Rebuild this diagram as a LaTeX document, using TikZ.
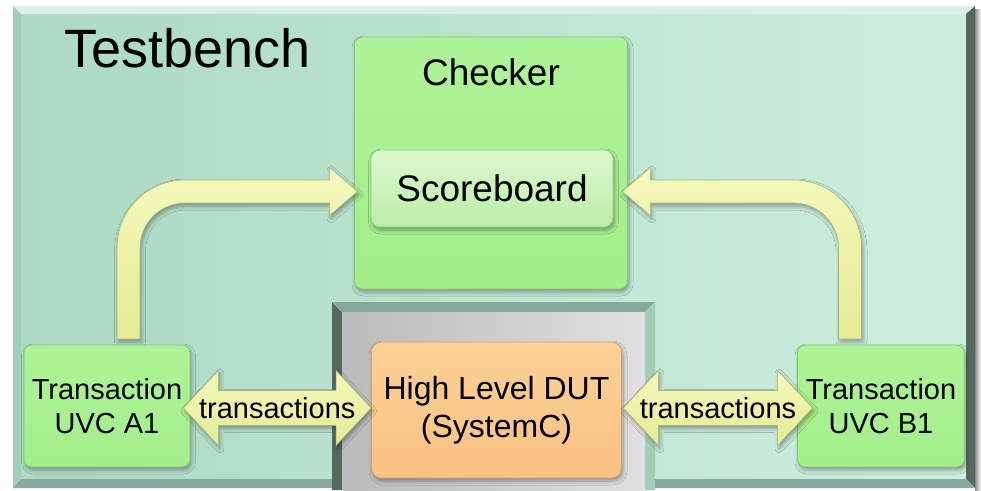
\documentclass[tikz,border=0pt]{standalone}
\usepackage{fontspec}
\setmainfont{Liberation Sans}
\usetikzlibrary{calc,shadows.blur}

\definecolor{faceL}{HTML}{ACDAC4}
\definecolor{faceR}{HTML}{CCEEDE}
\definecolor{bevTop}{HTML}{D8F1E5}
\definecolor{bevLeft}{HTML}{A2CDB8}
\definecolor{bevDark}{HTML}{56695F}
\definecolor{bevBot}{HTML}{87A999}
\definecolor{boxG}{HTML}{A3EE8A}
\definecolor{boxGtop}{HTML}{AEF398}
\definecolor{boxGedge}{HTML}{86C477}
\definecolor{scbTop}{HTML}{DBF8CF}
\definecolor{scbBot}{HTML}{BBEDA7}
\definecolor{scbEdge}{HTML}{96C888}
\definecolor{dutTop}{HTML}{FDD096}
\definecolor{dutBot}{HTML}{F8C283}
\definecolor{dutEdge}{HTML}{D3A46C}
\definecolor{arrTop}{HTML}{F5F8BC}
\definecolor{arrBot}{HTML}{E4EB95}
\definecolor{arrEdge}{HTML}{AFB474}
\definecolor{grayL}{HTML}{BBBBBB}
\definecolor{grayR}{HTML}{E0E0E0}

\tikzset{
  softshadow/.style={blur shadow={shadow xshift=1.5pt, shadow yshift=-3pt,
      shadow blur radius=4pt, shadow opacity=35}},
  box/.style={draw=boxGedge, line width=0.8pt, rounded corners=8pt,
      top color=boxGtop, bottom color=boxG, softshadow,
      inner sep=0pt, align=center},
  scorebox/.style={draw=scbEdge, line width=0.8pt, rounded corners=9pt,
      top color=scbTop, bottom color=scbBot, softshadow, inner sep=0pt},
  dutbox/.style={draw=dutEdge, line width=0.8pt, rounded corners=10pt,
      top color=dutTop, bottom color=dutBot, softshadow,
      inner sep=0pt, align=center},
  arrowbody/.style={top color=arrTop, bottom color=arrBot, draw=arrEdge,
      line width=0.6pt, line join=round, softshadow},
  uvcfont/.style={font=\fontsize{29}{34}\selectfont},
  bigfont/.style={font=\fontsize{37}{42}\selectfont},
}

% bent block arrow: #1 foot of the shaft, #2 tip, #3 direction (1 right, -1 left), #4 prefix
\newcommand\bentarrow[4]{%
  \coordinate (#4c) at (#1 |- #2);
  \path[arrowbody]
    ($(#1)+({-(#3)*11.5},0)$) -- ($(#4c)+({-(#3)*11.5},56.5)$)
    .. controls ($(#4c)+({-(#3)*11.5},18.9)$) and ($(#4c)+({(#3)*18.9},-11.5)$)
    .. ($(#4c)+({(#3)*56.5},-11.5)$)
    -- ($(#2)+({-(#3)*28},-11.5)$) -- ($(#2)+({-(#3)*28},-24)$) -- (#2)
    -- ($(#2)+({-(#3)*28},24)$) -- ($(#2)+({-(#3)*28},11.5)$)
    -- ($(#4c)+({(#3)*56.5},11.5)$)
    .. controls ($(#4c)+({(#3)*31.6},11.5)$) and ($(#4c)+({(#3)*11.5},31.6)$)
    .. ($(#4c)+({(#3)*11.5},56.5)$)
    -- ($(#1)+({(#3)*11.5},0)$) -- cycle;
}

% double-headed block arrow between two tips on one level
\newcommand\twowayarrow[2]{%
  \path[arrowbody]
    (#1) -- ($(#1)+(35,-37.5)$) -- ($(#1)+(35,-17.5)$)
    -- ($(#2)+(-35,-17.5)$) -- ($(#2)+(-35,-37.5)$) -- (#2)
    -- ($(#2)+(-35,37.5)$) -- ($(#2)+(-35,17.5)$)
    -- ($(#1)+(35,17.5)$) -- ($(#1)+(35,37.5)$) -- cycle;
}

\begin{document}
\begin{tikzpicture}[x=1pt,y=-1pt]
\useasboundingbox (0,0) rectangle (981,490);
\fill[white] (0,0) rectangle (981,490);

% shadow of the testbench frame
\shade[left color=black!45, right color=white] (975,9) rectangle (981,490);

% testbench face
\shade[left color=faceL, right color=faceR]
  (21,14) -- (966,14) -- (966,479) -- (655,479) -- (655,302)
  -- (332,302) -- (332,479) -- (21,479) -- cycle;

% bevelled frame edges
\fill[bevTop]  (13,6) -- (975,6) -- (966,14) -- (21,14) -- cycle;
\fill[bevLeft] (13,6) -- (21,14) -- (21,479) -- (13,488) -- cycle;
\fill[bevDark] (975,6) -- (975,488) -- (966,479) -- (966,14) -- cycle;
\fill[bevBot]  (13,488) -- (21,479) -- (332,479) -- (342,488) -- cycle;
\fill[bevBot]  (645,488) -- (655,479) -- (966,479) -- (975,488) -- cycle;
\fill[bevDark] (332,302) -- (342,312) -- (342,490) -- (332,490) -- cycle;
\fill[bevBot]  (332,302) -- (655,302) -- (645,312) -- (342,312) -- cycle;
\fill[bevLeft] (655,302) -- (655,490) -- (645,490) -- (645,312) -- cycle;

% recess holding the design under test
\shade[left color=grayL, right color=grayR] (342,312) rectangle (645,490);

% title
\node[anchor=base west, font=\fontsize{54}{60}\selectfont] (title) at (61,67) {Testbench};

% checker with its scoreboard
\node[box, minimum width=273pt, minimum height=252pt] (chk) at (491,163) {};
\node[bigfont, anchor=base] (chklabel) at (491,85) {Checker};
\node[scorebox, bigfont, minimum width=242pt, minimum height=77pt] (scb) at (492,188.5) {Scoreboard};

% feet and tips of the bent arrows
\coordinate (fa) at (128.5,339);
\coordinate (fb) at (850,339);
\coordinate (ta) at ($(chk.west |- scb.west)+(3.5,3)$);
\coordinate (tb) at ($(chk.east |- scb.east)+(-5.5,3)$);
\bentarrow{fa}{ta}{1}{ba}
\bentarrow{fb}{tb}{-1}{bb}

% transaction UVCs and the DUT
\node[box, uvcfont, minimum width=166pt, minimum height=122pt] (a1) at (107,406) {Transaction\\UVC A1};
\node[box, uvcfont, minimum width=167pt, minimum height=122pt] (b1) at (881,406) {Transaction\\UVC B1};
\node[dutbox, font=\fontsize{32}{38}\selectfont, minimum width=250pt, minimum height=136pt] (dut) at (496.5,410) {High Level DUT\\(SystemC)};

% transaction links
\coordinate (la) at ($(a1.east)+(-7,2)$);
\coordinate (ra) at (dut.west |- la);
\coordinate (lb) at ($(dut.east)+(1.5,-2)$);
\coordinate (rb) at ($(b1.west |- lb)+(15.5,0)$);
\twowayarrow{la}{ra}
\twowayarrow{lb}{rb}
\node[uvcfont] (tra) at ($(la)!0.5!(ra)$) {transactions};
\node[uvcfont] (trb) at ($(lb)!0.5!(rb)$) {transactions};
\end{tikzpicture}
\end{document}
